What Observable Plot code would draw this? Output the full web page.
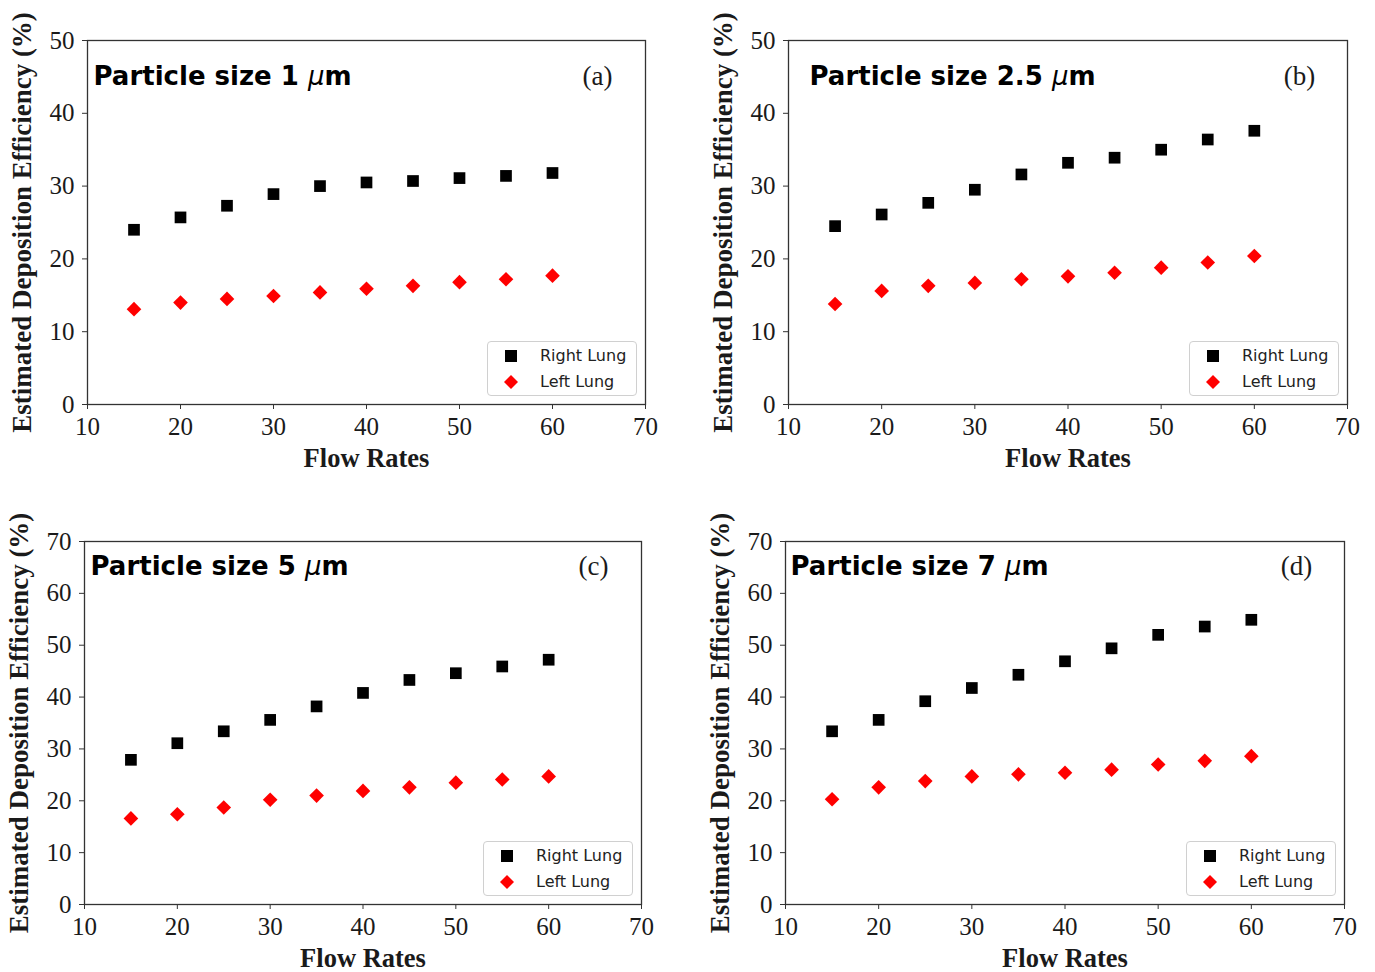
<!DOCTYPE html>
<html>
<head>
<meta charset="utf-8">
<script src="https://cdn.jsdelivr.net/npm/d3@7"></script>
<script src="https://cdn.jsdelivr.net/npm/@observablehq/plot@0.6"></script>
<style>
  html, body { margin: 0; padding: 0; background: #fff; }
  #root { position: relative; width: 1375px; height: 972px; overflow: hidden; background: #fff; }
  .panel { position: absolute; }
  .legend { position: absolute; width: 150px; height: 55px; box-sizing: border-box;
    border: 1px solid #d0d0d0; border-radius: 4px; background: rgba(255,255,255,0.85);
    font-family: "DejaVu Sans", sans-serif; font-size: 16px; color: #222; }
  .legend .row { position: absolute; left: 0; height: 20px; display: flex; align-items: center; }
  .legend svg { position: absolute; left: 13px; top: 0; }
  .legend span { position: absolute; left: 52px; white-space: nowrap; line-height: 20px; top: 0; }
</style>
</head>
<body>
<div id="root"></div>
<script>
// ---- data ----
const flowRates = [15, 20, 25, 30, 35, 40, 45, 50, 55, 60];
const xTicks = [10, 20, 30, 40, 50, 60, 70];
const yTicks50 = [0, 10, 20, 30, 40, 50];
const yTicks70 = [0, 10, 20, 30, 40, 50, 60, 70];
const seriesNames = ["Right Lung", "Left Lung"];

const rightA = [24.0, 25.7, 27.3, 28.9, 30.0, 30.5, 30.7, 31.1, 31.4, 31.8];
const leftA  = [13.1, 14.0, 14.5, 14.9, 15.4, 15.9, 16.3, 16.8, 17.2, 17.7];
const rightB = [24.5, 26.1, 27.7, 29.5, 31.6, 33.2, 33.9, 35.0, 36.4, 37.6];
const leftB  = [13.8, 15.6, 16.3, 16.7, 17.2, 17.6, 18.1, 18.8, 19.5, 20.4];
const rightC = [27.9, 31.1, 33.4, 35.6, 38.2, 40.8, 43.3, 44.6, 45.9, 47.2];
const leftC  = [16.6, 17.4, 18.7, 20.2, 21.0, 21.9, 22.6, 23.5, 24.1, 24.7];
const rightD = [33.4, 35.6, 39.2, 41.75, 44.3, 46.9, 49.4, 52.0, 53.6, 54.9];
const leftD  = [20.3, 22.6, 23.8, 24.7, 25.1, 25.4, 26.0, 27.0, 27.7, 28.6];

const titles = ["Particle size 1 μm", "Particle size 2.5 μm", "Particle size 5 μm", "Particle size 7 μm"];
const panelLabels = ["(a)", "(b)", "(c)", "(d)"];
const xLabel = "Flow Rates";
const yLabel = "Estimated Deposition Efficiency (%)";

// ---- layout ----
const panels = [
  {right: rightA, left: leftA, yTicks: yTicks50, left0: 0,   top0: 0,   w: 687, h: 480, ml: 87, mr: 42, mt: 40, mb: 76, titleDx: 6,  titleDy: 44},
  {right: rightB, left: leftB, yTicks: yTicks50, left0: 700, top0: 0,   w: 675, h: 480, ml: 88, mr: 28, mt: 40, mb: 76, titleDx: 21, titleDy: 44},
  {right: rightC, left: leftC, yTicks: yTicks70, left0: 0,   top0: 490, w: 687, h: 482, ml: 84, mr: 46, mt: 51, mb: 68, titleDx: 6,  titleDy: 33},
  {right: rightD, left: leftD, yTicks: yTicks70, left0: 700, top0: 490, w: 675, h: 482, ml: 85, mr: 31, mt: 51, mb: 68, titleDx: 5,  titleDy: 33}
];

const root = document.getElementById("root");
const serif = "'Liberation Serif', 'Times New Roman', serif";
const sans = "'DejaVu Sans', sans-serif";

panels.forEach((p, i) => {
  const rightRows = flowRates.map((x, k) => ({x, y: p.right[k]}));
  const leftRows = flowRates.map((x, k) => ({x, y: p.left[k]}));
  const ymax = p.yTicks[p.yTicks.length - 1];
  const chart = Plot.plot({
    width: p.w, height: p.h,
    marginLeft: p.ml, marginRight: p.mr, marginTop: p.mt, marginBottom: p.mb,
    x: {domain: [10, 70]},
    y: {domain: [0, ymax]},
    style: {fontFamily: serif, fontSize: "25px", color: "#1a1a1a", background: "transparent", overflow: "visible"},
    marks: [
      Plot.axisX({ticks: xTicks, tickSize: 5, tickPadding: 8, label: null, tickFormat: d3.format("d"), stroke: "#333"}),
      Plot.axisY({ticks: p.yTicks, tickSize: 5, tickPadding: 8, label: null, tickFormat: d3.format("d"), stroke: "#333"}),
      Plot.frame({stroke: "#333", strokeWidth: 1.3}),
      Plot.dot(rightRows, {x: "x", y: "y", symbol: "square", r: 6.6, fill: "#000", stroke: "none"}),
      Plot.dot(leftRows, {x: "x", y: "y", symbol: "diamond2", r: 6.6, fill: "#ff0000", stroke: "none"}),
      Plot.text([titles[i]], {text: d => d, frameAnchor: "top-left", dx: p.titleDx, dy: p.titleDy, textAnchor: "start", lineAnchor: "bottom",
        fontFamily: sans, fontWeight: "bold", fontSize: 26, fill: "#000", className: "ptitle"}),
      Plot.text([panelLabels[i]], {text: d => d, frameAnchor: "top-right", dx: -48, dy: p.titleDy, textAnchor: "middle", lineAnchor: "bottom",
        fontFamily: serif, fontSize: 27, fill: "#1a1a1a"}),
      Plot.text([xLabel], {text: d => d, frameAnchor: "bottom", dy: 54, textAnchor: "middle", lineAnchor: "middle",
        fontFamily: serif, fontWeight: "bold", fontSize: 26.5, fill: "#1a1a1a"}),
      Plot.text([yLabel], {text: d => d, frameAnchor: "left", dx: -65, rotate: -90, textAnchor: "middle", lineAnchor: "middle",
        fontFamily: serif, fontWeight: "bold", fontSize: 27, fill: "#1a1a1a"})
    ]
  });
  // italic, non-bold μ as in matplotlib mathtext
  d3.select(chart).selectAll("g.ptitle text").each(function() {
    const t = this.textContent;
    const idx = t.indexOf("μ");
    if (idx < 0) return;
    const sel = d3.select(this);
    sel.text(null);
    sel.append("tspan").text(t.slice(0, idx));
    sel.append("tspan").attr("font-style", "italic").attr("font-weight", "normal").text("μ");
    sel.append("tspan").text(t.slice(idx + 1));
  });

  const wrap = document.createElement("div");
  wrap.className = "panel";
  wrap.style.left = p.left0 + "px";
  wrap.style.top = p.top0 + "px";
  wrap.style.width = p.w + "px";
  wrap.style.height = p.h + "px";
  wrap.appendChild(chart);

  // legend (inside bottom-right of frame)
  const lg = document.createElement("div");
  lg.className = "legend";
  const frameRight = p.w - p.mr;
  const frameBottom = p.h - p.mb;
  lg.style.left = (frameRight - 8 - 150) + "px";
  lg.style.top = (frameBottom - 8 - 55) + "px";
  const sym = [
    '<svg width="20" height="20"><rect x="4" y="4" width="12" height="12" fill="#000"/></svg>',
    '<svg width="20" height="20"><path d="M10,3 L17,10 L10,17 L3,10 Z" fill="#ff0000"/></svg>'
  ];
  seriesNames.forEach((name, k) => {
    const row = document.createElement("div");
    row.className = "row";
    row.style.top = (4 + k * 26) + "px";
    row.innerHTML = sym[k] + "<span>" + name + "</span>";
    lg.appendChild(row);
  });
  wrap.appendChild(lg);
  root.appendChild(wrap);
});
</script>
</body>
</html>
